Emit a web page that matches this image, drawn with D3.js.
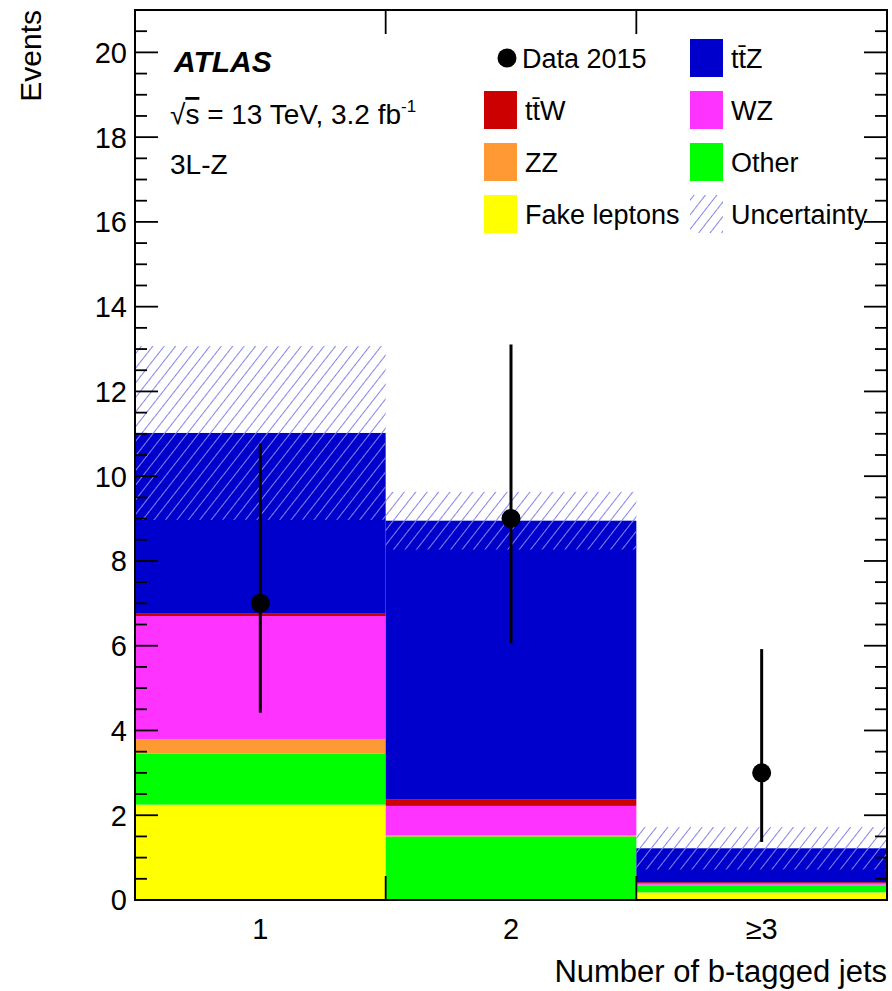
<!DOCTYPE html>
<html>
<head>
<meta charset="utf-8">
<script src="https://cdn.jsdelivr.net/npm/d3@7"></script>
<style>
  body { margin: 0; background: #fff; }
  text { font-family: "Liberation Sans", Arial, Helvetica, sans-serif; fill: #000; }
</style>
</head>
<body>
<div id="chart"></div>
<script>
// bins of number of b-tagged jets
var bins = ["1", "2", "\u22653"];
// stacked backgrounds (bottom to top)
var fake  = [2.25, 0.00, 0.18];
var other = [1.20, 1.50, 0.17];
var zz    = [0.35, 0.02, 0.01];
var wz    = [2.90, 0.70, 0.03];
var ttw   = [0.07, 0.16, 0.03];
var ttz   = [4.25, 6.57, 0.80];
var uncert = [2.05, 0.68, 0.50];
// data with poisson error bars
var dataN  = [7, 9, 3];
var dataLo = [4.42, 6.06, 1.37];
var dataHi = [10.77, 13.11, 5.92];
var yTicks = [0, 2, 4, 6, 8, 10, 12, 14, 16, 18, 20];

(function () {
    var width = 892, height = 991,
        pl = 135, pr = 887, pt = 10, pb = 900;

    var keys = ["fake", "other", "zz", "wz", "ttw", "ttz"];
    var colors = {fake: "#ffff00", other: "#00ff00", zz: "#ff9933", wz: "#ff33ff", ttw: "#cc0000", ttz: "#0000cc"};
    var series = {fake: fake, other: other, zz: zz, wz: wz, ttw: ttw, ttz: ttz};

    var rows = bins.map(function (b, i) {
        var r = {bin: b, idx: i + 1};
        keys.forEach(function (k) { r[k] = series[k][i]; });
        return r;
    });
    var stacked = d3.stack().keys(keys)(rows);

    var x = d3.scaleLinear().domain([0.5, 3.5]).range([pl, pr]);
    var y = d3.scaleLinear().domain([0, 21]).range([pb, pt]);

    var svg = d3.select("#chart").append("svg")
        .attr("width", width)
        .attr("height", height);

    var pat = svg.append("defs").append("pattern")
        .attr("id", "hatch")
        .attr("patternUnits", "userSpaceOnUse")
        .attr("width", 9).attr("height", 9)
        .attr("patternTransform", "rotate(38)");
    pat.append("line")
        .attr("x1", 0).attr("y1", 0).attr("x2", 0).attr("y2", 9)
        .attr("stroke", "#8484ee").attr("stroke-width", 2);

    // stack
    svg.selectAll("g.layer")
        .data(stacked)
        .enter().append("g")
        .attr("class", "layer")
        .attr("fill", function (d) { return colors[d.key]; })
        .selectAll("rect")
        .data(function (d) { return d; })
        .enter().append("rect")
        .attr("x", function (d) { return x(d.data.idx - 0.5); })
        .attr("width", function (d) { return x(d.data.idx + 0.5) - x(d.data.idx - 0.5); })
        .attr("y", function (d) { return y(d[1]); })
        .attr("height", function (d) { return y(d[0]) - y(d[1]); });

    // uncertainty band
    var totals = rows.map(function (r) { return d3.sum(keys, function (k) { return r[k]; }); });
    svg.selectAll("rect.unc")
        .data(totals)
        .enter().append("rect")
        .attr("class", "unc")
        .attr("x", function (d, i) { return x(i + 0.5); })
        .attr("width", function (d, i) { return x(i + 1.5) - x(i + 0.5); })
        .attr("y", function (d, i) { return y(d + uncert[i]); })
        .attr("height", function (d, i) { return y(d - uncert[i]) - y(d + uncert[i]); })
        .attr("fill", "url(#hatch)");

    // data points
    svg.selectAll("line.err")
        .data(dataN)
        .enter().append("line")
        .attr("class", "err")
        .attr("x1", function (d, i) { return x(i + 1); })
        .attr("x2", function (d, i) { return x(i + 1); })
        .attr("y1", function (d, i) { return y(dataLo[i]); })
        .attr("y2", function (d, i) { return y(dataHi[i]); })
        .attr("stroke", "#000").attr("stroke-width", 3);
    svg.selectAll("circle.pt")
        .data(dataN)
        .enter().append("circle")
        .attr("class", "pt")
        .attr("cx", function (d, i) { return x(i + 1); })
        .attr("cy", function (d) { return y(d); })
        .attr("r", 9.5)
        .attr("fill", "#000");

    // frame and ticks
    svg.append("rect")
        .attr("x", pl).attr("y", pt)
        .attr("width", pr - pl).attr("height", pb - pt)
        .attr("fill", "none").attr("stroke", "#000").attr("stroke-width", 2);

    var minor = d3.range(0, 42).map(function (i) { return i * 0.5; });
    minor.forEach(function (v) {
        var len = (v % 2 === 0) ? 23 : 12;
        svg.append("line").attr("x1", pl).attr("x2", pl + len)
            .attr("y1", y(v)).attr("y2", y(v)).attr("stroke", "#000").attr("stroke-width", 1.8);
        svg.append("line").attr("x1", pr).attr("x2", pr - len)
            .attr("y1", y(v)).attr("y2", y(v)).attr("stroke", "#000").attr("stroke-width", 1.8);
    });

    [1.5, 2.5].forEach(function (v) {
        svg.append("line").attr("x1", x(v)).attr("x2", x(v)).attr("y1", pt).attr("y2", pt + 24)
            .attr("stroke", "#000").attr("stroke-width", 1.8);
        svg.append("line").attr("x1", x(v)).attr("x2", x(v)).attr("y1", pb).attr("y2", pb - 24)
            .attr("stroke", "#000").attr("stroke-width", 1.8);
    });

    svg.selectAll("text.ylab")
        .data(yTicks)
        .enter().append("text")
        .attr("class", "ylab")
        .attr("x", 127)
        .attr("y", function (d) { return y(d); })
        .attr("dy", "0.36em")
        .attr("text-anchor", "end")
        .attr("font-size", "29px")
        .text(function (d) { return d; });

    svg.selectAll("text.xlab")
        .data(bins)
        .enter().append("text")
        .attr("class", "xlab")
        .attr("x", function (d, i) { return x(i + 1); })
        .attr("y", 939)
        .attr("text-anchor", "middle")
        .attr("font-size", "29px")
        .text(function (d) { return d; });

    svg.append("text")
        .attr("x", pr).attr("y", 982)
        .attr("text-anchor", "end")
        .attr("font-size", "31px")
        .text("Number of b-tagged jets");

    svg.append("text")
        .attr("transform", "translate(41,10) rotate(-90)")
        .attr("text-anchor", "end")
        .attr("font-size", "30px")
        .text("Events");

    // labels
    svg.append("text")
        .attr("x", 174).attr("y", 72)
        .attr("font-size", "30px")
        .attr("font-weight", "bold")
        .attr("font-style", "italic")
        .text("ATLAS");

    var lumi = svg.append("text")
        .attr("x", 170).attr("y", 124)
        .attr("font-size", "28px");
    lumi.append("tspan").text("\u221A");
    lumi.append("tspan").text("s").attr("text-decoration", "overline");
    lumi.append("tspan").text(" = 13 TeV, 3.2 fb");
    lumi.append("tspan").text("-1").attr("font-size", "17px").attr("dy", -12);

    svg.append("text")
        .attr("x", 170).attr("y", 174)
        .attr("font-size", "28px")
        .text("3L-Z");

    // legend
    var legendItems = [
        {label: "Data 2015", type: "data", col: 0, row: 0},
        {label: "tt\u0304Z", type: "ttz", col: 1, row: 0},
        {label: "tt\u0304W", type: "ttw", col: 0, row: 1},
        {label: "WZ", type: "wz", col: 1, row: 1},
        {label: "ZZ", type: "zz", col: 0, row: 2},
        {label: "Other", type: "other", col: 1, row: 2},
        {label: "Fake leptons", type: "fake", col: 0, row: 3},
        {label: "Uncertainty", type: "unc", col: 1, row: 3}
    ];
    var colX = [484, 690], rowY = [58, 110, 162, 214];

    var leg = svg.selectAll("g.leg")
        .data(legendItems)
        .enter().append("g")
        .attr("class", "leg")
        .attr("transform", function (d) { return "translate(" + colX[d.col] + "," + rowY[d.row] + ")"; });

    leg.each(function (d) {
        var g = d3.select(this);
        if (d.type === "data") {
            g.append("circle").attr("cx", 23).attr("cy", 0).attr("r", 9.5).attr("fill", "#000");
        } else if (d.type === "unc") {
            g.append("rect").attr("x", 0).attr("y", -19).attr("width", 33).attr("height", 38)
                .attr("fill", "url(#hatch)");
        } else {
            g.append("rect").attr("x", 0).attr("y", -19).attr("width", 33).attr("height", 38)
                .attr("fill", colors[d.type]);
        }
        g.append("text")
            .attr("x", d.type === "data" ? 38 : 41)
            .attr("y", 0)
            .attr("dy", "0.36em")
            .attr("font-size", "27px")
            .text(d.label);
    });
})();
</script>
</body>
</html>
